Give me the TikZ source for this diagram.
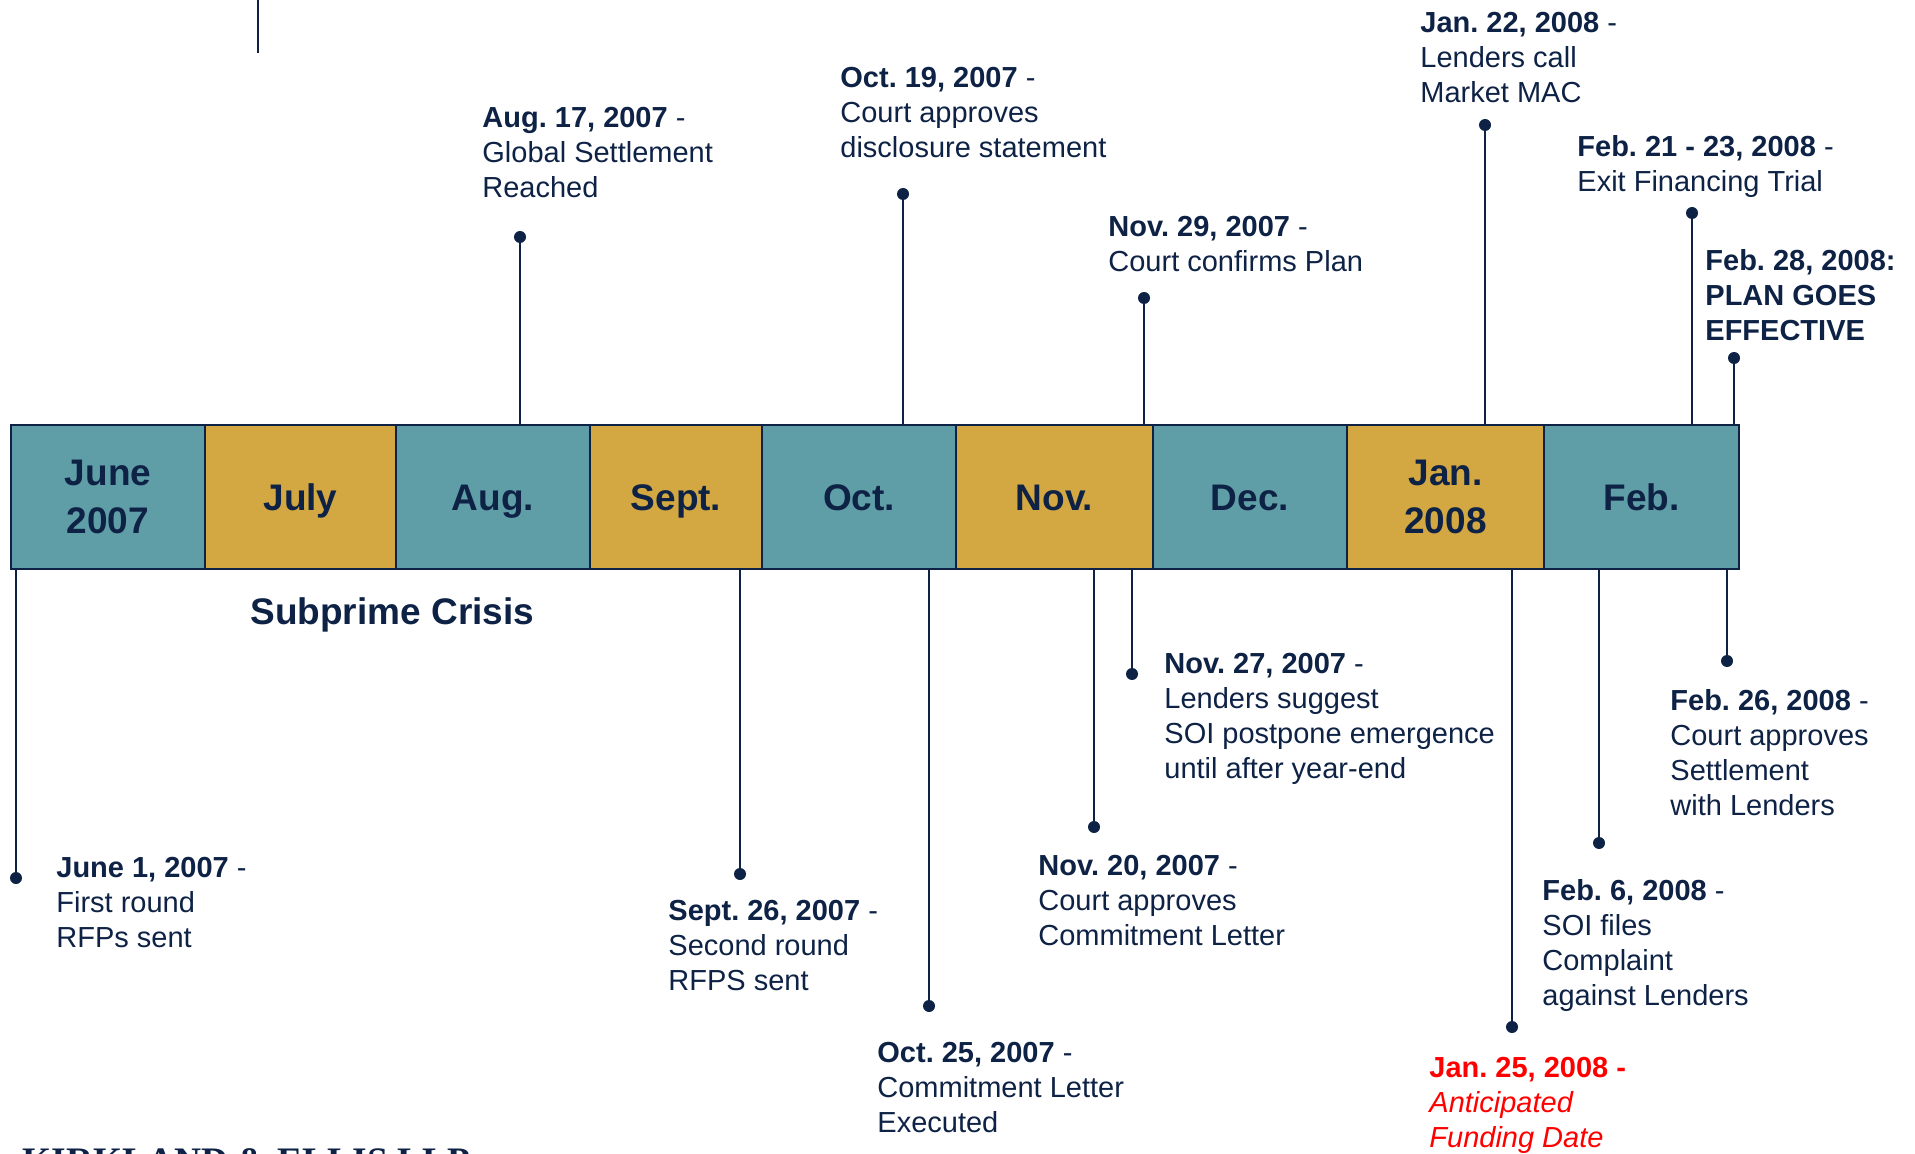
\documentclass[tikz,border=0pt]{standalone}
\usepackage{fontspec}
\setmainfont{Liberation Sans}
\newfontfamily\kefont{Liberation Serif}
\usetikzlibrary{positioning}
\definecolor{navy}{HTML}{0E2245}
\definecolor{tealm}{HTML}{5F9EA7}
\definecolor{goldm}{HTML}{D3A842}
\definecolor{redm}{HTML}{FF0000}
\frenchspacing

\begin{document}
\begin{tikzpicture}[x=0.5pt,y=-0.5pt]
                                         \def\TCOL{tealm}
                                         \def\GCOL{goldm}
                                         \tikzstyle{mon} = [draw=navy,line width=1pt,outer sep=0pt,minimum height=72pt,inner sep=0pt,anchor=west,text=navy,font=\fontsize{18.5}{24}\selectfont\bfseries]
                                         \tikzstyle{monone} = [mon,text height=13.25pt,text depth=0pt]
                                         \tikzstyle{montwo} = [mon,align=center,text depth=-2.4pt]
                                         \tikzstyle{evt} = [anchor=north west,inner sep=0pt,align=left,text=navy,yshift=-0.6pt,font=\fontsize{14.5}{17.5}\selectfont]
                                         \tikzstyle{pin} = [circle,fill=navy,inner sep=0pt,minimum size=6pt]
                                         \tikzstyle{stem} = [draw=navy,line width=0.75pt]
                                         \useasboundingbox (0,0) rectangle (1915,1154);
                                         \clip (0,0) rectangle (1915,1154);

                                         \node[montwo,fill=\TCOL,minimum width=97pt] (M1) at (11,497) {June\\2007};
                                         \node[monone,fill=\GCOL,minimum width=95.5pt] (M2) at (M1.east) {July};
                                         \node[monone,fill=\TCOL,minimum width=97pt] (M3) at (M2.east) {Aug.};
                                         \node[monone,fill=\GCOL,minimum width=86pt] (M4) at (M3.east) {Sept.};
                                         \node[monone,fill=\TCOL,minimum width=97pt] (M5) at (M4.east) {Oct.};
                                         \node[monone,fill=\GCOL,minimum width=98.5pt] (M6) at (M5.east) {Nov.};
                                         \node[monone,fill=\TCOL,minimum width=97pt] (M7) at (M6.east) {Dec.};
                                         \node[montwo,fill=\GCOL,minimum width=98.5pt] (M8) at (M7.east) {Jan.\\2008};
                                         \node[monone,fill=\TCOL,minimum width=97.5pt] (M9) at (M8.east) {Feb.};

                                         \node[anchor=west,inner sep=0pt,text=navy,font=\fontsize{18.5}{24}\selectfont\bfseries] (SC) at (250,615) {Subprime Crisis};

                                         \coordinate (L0) at (258,0);
                                         \coordinate (L1) at (258,53);
                                         \draw[stem] (L0) -- (L1);

                                         % dots on the stems
                                         \node[pin] (D1) at (16,878) {};
                                         \node[pin] (D2) at (520,237) {};
                                         \node[pin] (D3) at (740,874) {};
                                         \node[pin] (D4) at (903,194) {};
                                         \node[pin] (D5) at (929,1006) {};
                                         \node[pin] (D6) at (1144,298) {};
                                         \node[pin] (D7) at (1094,827) {};
                                         \node[pin] (D8) at (1132,674) {};
                                         \node[pin] (D9) at (1485,125) {};
                                         \node[pin] (D10) at (1512,1027) {};
                                         \node[pin] (D11) at (1692,213) {};
                                         \node[pin] (D12) at (1734,358) {};
                                         \node[pin] (D13) at (1599,843) {};
                                         \node[pin] (D14) at (1727,661) {};

                                         \draw[stem] (D1) -- (D1 |- M1.south);
                                         \draw[stem] (D2) -- (D2 |- M3.north);
                                         \draw[stem] (D3) -- (D3 |- M4.south);
                                         \draw[stem] (D4) -- (D4 |- M5.north);
                                         \draw[stem] (D5) -- (D5 |- M5.south);
                                         \draw[stem] (D6) -- (D6 |- M6.north);
                                         \draw[stem] (D7) -- (D7 |- M6.south);
                                         \draw[stem] (D8) -- (D8 |- M6.south);
                                         \draw[stem] (D9) -- (D9 |- M8.north);
                                         \draw[stem] (D10) -- (D10 |- M8.south);
                                         \draw[stem] (D11) -- (D11 |- M9.north);
                                         \draw[stem] (D12) -- (D12 |- M9.north);
                                         \draw[stem] (D13) -- (D13 |- M9.south);
                                         \draw[stem] (D14) -- (D14 |- M9.south);

                                         % event texts
                                         \node[evt] (E1) at (56,856) {\textbf{June 1, 2007} -\\First round\\RFPs sent};
                                         \node[evt] (E2) at (482,106) {\textbf{Aug. 17, 2007} -\\Global Settlement\\Reached};
                                         \node[evt] (E3) at (668,899) {\textbf{Sept. 26, 2007} -\\Second round\\RFPS sent};
                                         \node[evt] (E4) at (840,66) {\textbf{Oct. 19, 2007} -\\Court approves\\disclosure statement};
                                         \node[evt] (E5) at (877,1041) {\textbf{Oct. 25, 2007} -\\Commitment Letter\\Executed};
                                         \node[evt] (E6) at (1108,215) {\textbf{Nov. 29, 2007} -\\Court confirms Plan};
                                         \node[evt] (E7) at (1038,854) {\textbf{Nov. 20, 2007} -\\Court approves\\Commitment Letter};
                                         \node[evt] (E8) at (1164,652) {\textbf{Nov. 27, 2007} -\\Lenders suggest\\SOI postpone emergence\\until after year-end};
                                         \node[evt] (E9) at (1420,11) {\textbf{Jan. 22, 2008} -\\Lenders call\\Market MAC};
                                         \node[evt,text=redm] (E10) at (1429,1056) {\textbf{Jan. 25, 2008 -}\\\textit{Anticipated}\\\textit{Funding Date}};
                                         \node[evt] (E11) at (1577,134) {\textbf{Feb. 21 - 23, 2008} -\\Exit Financing Trial};
                                         \node[evt,font=\fontsize{14.5}{17.5}\selectfont\bfseries] (E12) at (1705,248) {Feb. 28, 2008:\\PLAN GOES\\EFFECTIVE};
                                         \node[evt] (E13) at (1542,878) {\textbf{Feb. 6, 2008} -\\SOI files\\Complaint\\against Lenders};
                                         \node[evt] (E14) at (1670,688) {\textbf{Feb. 26, 2008} -\\Court approves\\Settlement\\with Lenders};

                                         \node[anchor=base west,inner sep=0pt,text=navy,font=\kefont\bfseries\fontsize{18.7}{22}\selectfont] (KE) at (22,1173) {KIRKLAND \& ELLIS LLP};
\end{tikzpicture}
\end{document}
